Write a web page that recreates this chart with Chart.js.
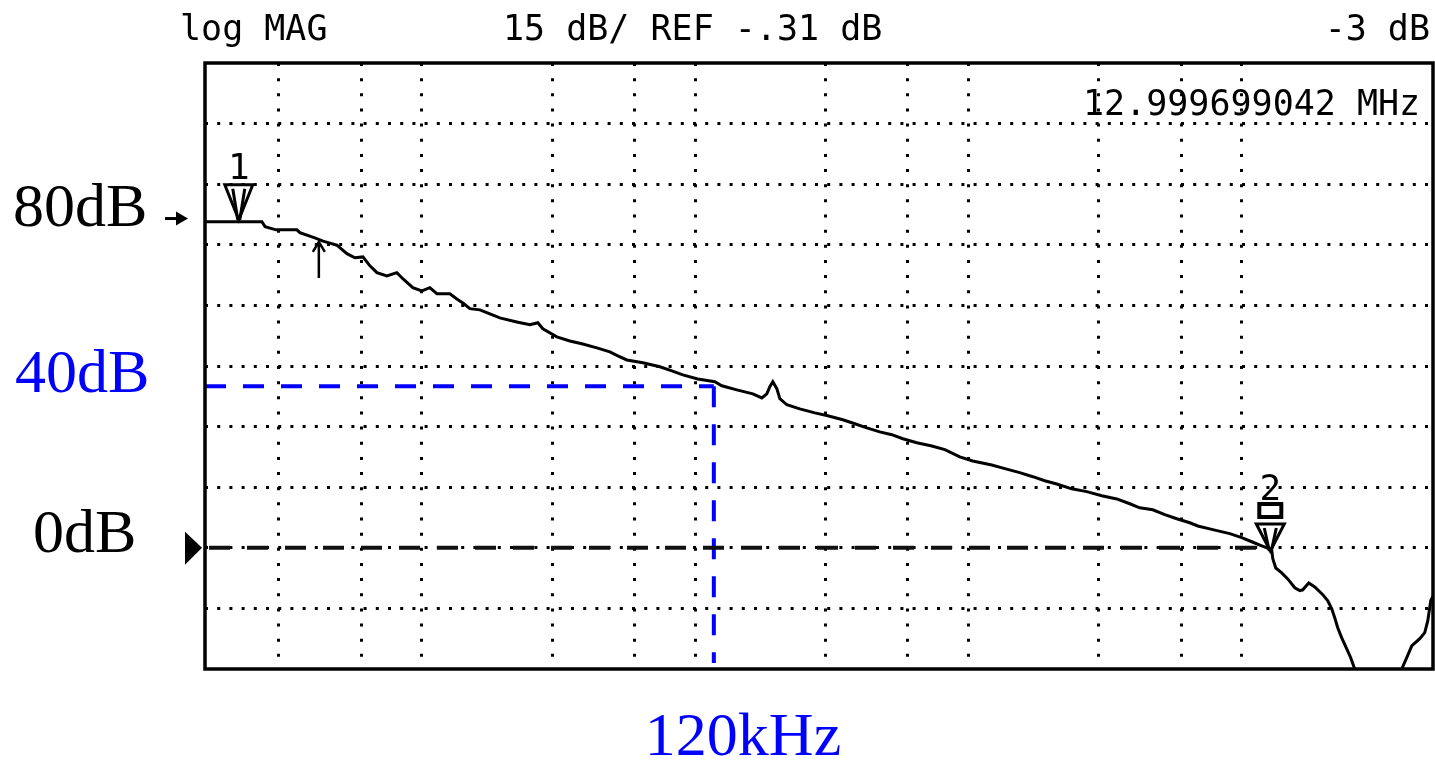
<!DOCTYPE html>
<html>
<head>
<meta charset="utf-8">
<script src="https://cdn.jsdelivr.net/npm/chart.js@4.4.1/dist/chart.umd.min.js"></script>
<style>
  html, body { margin: 0; padding: 0; background: #fff; }
  canvas { display: block; }
</style>
</head>
<body>
<canvas id="bode" width="1435" height="760"></canvas>
<script>
// sweep limits and graticule
const freqMin = 1610;
const freqMax = 50e6;
const dbMin = -30;
const dbMax = 120;
const gridFreqHz = [3e3, 6e3, 1e4, 3e4, 6e4, 1e5, 3e5, 6e5, 1e6, 3e6, 6e6, 1e7];
const gridDb = [-15, 0, 15, 30, 45, 60, 75, 90, 105];

const traceFreqHz = [
    1610, 2600, 2670, 2930, 3490, 3580, 4060, 4350, 4610, 4890,
    5320, 5690, 6090, 6460, 6850, 7450, 8100, 8520, 9270, 10000,
    10700, 11350, 12660, 13430, 14130, 14990, 16310, 17740, 19290, 22260,
    24850, 26570, 27720, 31180, 34790, 38490, 43680, 48730, 52120, 56230,
    64350, 74270, 82150, 90120, 102200, 118000, 125100, 142000, 162500, 175300,
    182800, 187500, 192300, 198900, 204000, 216400, 241300, 273900, 305600, 346700,
    383600, 424400, 473500, 523900, 574800, 646800, 733800, 818900, 929000, 1036000,
    1216000, 1357000, 1539000, 1718000, 1900000, 2102000, 2386000, 2707000, 3071000, 3485000,
    3888000, 4229000, 4720000, 5222000, 5777000, 6445000, 6895000, 7824000, 9028000, 9986000,
    10860000, 11820000, 12700000, 12860000, 12970000, 13300000, 13980000, 14710000, 15610000, 16280000,
    16690000, 17560000, 18470000, 19760000, 20610000, 21310000, 21850000, 22410000, 23180000, 24180000,
    25000000, 25860000, 28140000, 31930000, 36220000, 38420000, 40080000, 41800000, 44720000, 46640000,
    47840000, 49060000, 50000000
];
const traceDb = [
    80.7, 80.7, 79.5, 78.7, 78.7, 78.0, 76.7, 75.9, 75.4, 74.9,
    72.8, 71.8, 72.0, 69.8, 68.1, 67.3, 68.1, 66.6, 64.4, 63.6,
    64.4, 62.9, 62.9, 61.6, 60.6, 59.2, 58.9, 57.9, 56.9, 55.9,
    55.2, 55.7, 54.2, 52.2, 51.2, 50.5, 49.5, 48.5, 47.5, 46.5,
    45.8, 44.8, 43.8, 42.8, 41.8, 41.1, 40.1, 39.1, 38.1, 37.1,
    38.1, 39.9, 41.1, 39.4, 36.9, 35.4, 34.4, 33.4, 32.7, 31.7,
    30.7, 29.7, 28.7, 28.0, 27.0, 26.0, 25.2, 24.3, 22.5, 21.5,
    20.5, 19.6, 18.6, 17.6, 16.6, 15.8, 14.6, 13.9, 12.9, 12.1,
    10.9, 9.9, 9.4, 8.2, 7.2, 6.2, 5.4, 4.5, 3.5, 2.5,
    1.5, 0.5, -0.3, -0.7, -2.7, -5.0, -6.2, -7.7, -9.9, -10.6,
    -10.4, -8.7, -9.7, -11.6, -13.1, -15.1, -17.3, -19.8, -22.3, -25.0,
    -27.2, -30.0, -35, -38, -35, -30.0, -27.2, -24.3, -22.5, -21.0,
    -18.1, -13.1, -11.9
];

// markers and annotations
const markerFreqHz = [2140, 12.7e6];
const markerDb = [80.7, -0.3];
const markerLabels = ['1', '2'];
const cursorFreqHz = 4200;
const cursorDb = 75.7;
const cornerFreqHz = 117e3;
const cornerDb = 40;
const refArrowDb = 81.5;

const toPoints = (xs, ys) => xs.map((v, i) => ({ x: v, y: ys[i] }));

const overlay = {
    id: 'overlay',
    afterDatasetsDraw(chart) {
        const { ctx, chartArea: a, scales: { x, y } } = chart;
        ctx.save();

        // plot frame
        ctx.lineWidth = 3.5;
        ctx.strokeStyle = '#000';
        ctx.strokeRect(a.left, a.top, a.right - a.left, a.bottom - a.top);

        // marker triangles with their numbers
        const drawMarker = (px, py, label, h, gap) => {
            ctx.lineWidth = 3;
            ctx.beginPath();
            ctx.moveTo(px - 14, py - h);
            ctx.lineTo(px + 14, py - h);
            ctx.lineTo(px, py);
            ctx.closePath();
            ctx.stroke();
            ctx.beginPath();
            ctx.moveTo(px - 6, py - h + 4);
            ctx.lineTo(px - 1, py);
            ctx.moveTo(px + 6, py - h + 4);
            ctx.lineTo(px + 1, py);
            ctx.stroke();
            ctx.font = '36px "DejaVu Sans Mono"';
            ctx.textAlign = 'center';
            ctx.fillStyle = '#000';
            ctx.fillText(label, px, py - h - gap);
        };
        const m1x = x.getPixelForValue(markerFreqHz[0]), m1y = y.getPixelForValue(markerDb[0]);
        drawMarker(m1x, m1y - 2, markerLabels[0], 35, 6);
        const m2x = x.getPixelForValue(markerFreqHz[1]), m2y = y.getPixelForValue(markerDb[1]);
        drawMarker(m2x, m2y + 2, markerLabels[1], 27, 24);
        ctx.lineWidth = 4;
        ctx.strokeRect(m2x - 11, m2y - 45, 22, 13);

        // cursor arrow under the trace
        const cx = x.getPixelForValue(cursorFreqHz), cy = y.getPixelForValue(cursorDb);
        ctx.lineWidth = 2.5;
        ctx.beginPath();
        ctx.moveTo(cx, cy);
        ctx.lineTo(cx, cy + 36);
        ctx.moveTo(cx - 6, cy + 10);
        ctx.lineTo(cx, cy);
        ctx.lineTo(cx + 6, cy + 10);
        ctx.stroke();

        // reference arrows on the left of the frame
        const ry = y.getPixelForValue(refArrowDb);
        ctx.lineWidth = 3;
        ctx.beginPath();
        ctx.moveTo(165, ry);
        ctx.lineTo(178, ry);
        ctx.stroke();
        ctx.beginPath();
        ctx.moveTo(176, ry - 7);
        ctx.lineTo(188, ry);
        ctx.lineTo(176, ry + 7);
        ctx.closePath();
        ctx.fill();
        const zy = y.getPixelForValue(0);
        ctx.beginPath();
        ctx.moveTo(185, zy - 16);
        ctx.lineTo(202, zy);
        ctx.lineTo(185, zy + 17);
        ctx.closePath();
        ctx.fill();

        // big labels
        ctx.textAlign = 'left';
        ctx.font = '62px "Liberation Serif"';
        ctx.fillStyle = '#000';
        ctx.fillText('80dB', 13, 226);
        ctx.fillText('0dB', 33, 552);
        ctx.fillStyle = '#0000ff';
        ctx.fillText('40dB', 15, 392);
        ctx.textAlign = 'center';
        ctx.fillText('120kHz', 743, 755);

        // analyzer annotation text
        ctx.font = '35px "DejaVu Sans Mono"';
        ctx.fillStyle = '#000';
        ctx.textAlign = 'left';
        ctx.fillText('log MAG', 180, 40);
        ctx.fillText('15 dB/ REF -.31 dB', 503, 40);
        ctx.fillText('12.999699042 MHz', 1083, 115);
        ctx.textAlign = 'right';
        ctx.fillText('-3 dB', 1430, 40);

        ctx.restore();
    }
};

new Chart(document.getElementById('bode'), {
    type: 'line',
    data: {
        datasets: [
            { label: 'zero', data: toPoints([freqMin, markerFreqHz[1]], [0, 0]),
              borderColor: '#111', borderWidth: 4, borderDash: [21, 17], borderDashOffset: 34,
              pointRadius: 0, fill: false },
            { label: 'cornerH', data: toPoints([freqMin, cornerFreqHz], [cornerDb, cornerDb]),
              borderColor: '#0000ff', borderWidth: 4, borderDash: [21, 17],
              pointRadius: 0, fill: false },
            { label: 'cornerV', data: toPoints([cornerFreqHz, cornerFreqHz], [cornerDb, -28.5]),
              borderColor: '#0000ff', borderWidth: 4, borderDash: [21, 17],
              pointRadius: 0, fill: false },
            { label: 'trace', data: toPoints(traceFreqHz, traceDb),
              borderColor: '#000', borderWidth: 3, tension: 0,
              pointRadius: 0, fill: false }
        ]
    },
    options: {
        responsive: false,
        animation: false,
        events: [],
        layout: { padding: { left: 205, right: 2, top: 63, bottom: 91 } },
        plugins: { legend: { display: false }, tooltip: { enabled: false } },
        scales: {
            x: {
                type: 'logarithmic', min: freqMin, max: freqMax, bounds: 'data',
                afterBuildTicks: s => { s.ticks = gridFreqHz.map(v => ({ value: v })); },
                ticks: { display: false },
                grid: { color: '#000', lineWidth: 3, drawTicks: false },
                border: { display: false, dash: [3, 12.15] }
            },
            y: {
                type: 'linear', min: dbMin, max: dbMax, bounds: 'data',
                afterBuildTicks: s => { s.ticks = gridDb.map(v => ({ value: v })); },
                ticks: { display: false },
                grid: { color: '#000', lineWidth: 3, drawTicks: false },
                border: { display: false, dash: [3, 9.2] }
            }
        }
    },
    plugins: [overlay]
});
</script>
</body>
</html>
